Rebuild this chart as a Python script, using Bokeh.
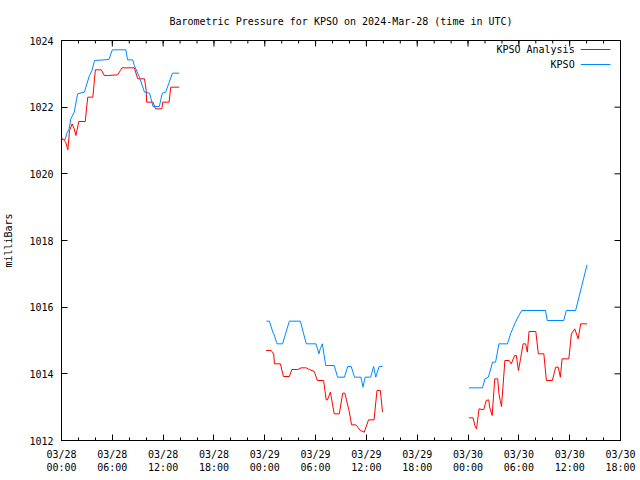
import math
from bokeh.plotting import figure
from bokeh.models import Range1d, FixedTicker, Label
from bokeh.embed import file_html
from bokeh.resources import INLINE

NAN = float("nan")

title_text = "Barometric Pressure for KPSO on 2024-Mar-28 (time in UTC)"
y_label = "milliBars"
series_names = ["KPSO Analysis", "KPSO"]
series_colors = ["#ff0000", "#0088ff"]

# hours since 2024-03-28 00:00 UTC
x_ticks = [0, 6, 12, 18, 24, 30, 36, 42, 48, 54, 60, 66]
x_tick_labels = ["03/28\n00:00", "03/28\n06:00", "03/28\n12:00", "03/28\n18:00",
                 "03/29\n00:00", "03/29\n06:00", "03/29\n12:00", "03/29\n18:00",
                 "03/30\n00:00", "03/30\n06:00", "03/30\n12:00", "03/30\n18:00"]
y_ticks = [1012, 1014, 1016, 1018, 1020, 1022, 1024]

# KPSO observed
kpso_hours = [0.0, 0.45, 0.6, 0.9, 1.1, 1.5, 1.9, 2.7, 3.3, 3.6, 3.9, 5.6, 6.0, 7.6, 7.8, 8.4,
              8.6, 9.2, 9.8, 10.4, 10.8, 11.55, 11.9, 12.3, 13.1, 13.9,
              NAN,
              24.2, 24.55, 24.95, 25.1, 25.45, 26.1, 26.9, 28.2, 28.9, 30.05, 30.4, 30.55, 30.8,
              31.2, 32.2, 32.6, 33.4, 33.8, 34.2, 34.6, 35.35, 35.6, 35.85, 36.5, 36.85, 37.1,
              37.5, 37.9,
              NAN,
              48.1, 49.7, 50.0, 50.4, 50.9, 51.25, 51.65, 52.65, 53.05, 53.6, 54.0, 54.35,
              57.15, 57.35, 59.3, 59.6, 60.7, 62.05]
kpso_mb = [1021.03, 1021.03, 1021.2, 1021.35, 1021.65, 1021.85, 1022.4, 1022.45, 1022.95, 1023.1,
           1023.4, 1023.43, 1023.72, 1023.72, 1023.42, 1023.42, 1023.25, 1022.9, 1022.45, 1022.42,
           1022.02, 1022.02, 1022.42, 1022.45, 1023.02, 1023.02,
           NAN,
           1015.58, 1015.58, 1015.25, 1015.18, 1014.9, 1014.9, 1015.58, 1015.58, 1014.9, 1014.9,
           1014.6, 1014.75, 1014.9, 1014.25, 1014.25, 1013.9, 1013.9, 1014.22, 1014.22, 1013.9,
           1013.9, 1013.6, 1013.9, 1013.9, 1014.22, 1013.9, 1014.22, 1014.22,
           NAN,
           1013.58, 1013.58, 1013.85, 1013.9, 1014.35, 1014.35, 1014.9, 1014.9, 1015.22, 1015.55,
           1015.75, 1015.9, 1015.9, 1015.6, 1015.6, 1015.9, 1015.9, 1017.27]

# KPSO analysis
anal_hours = [0.0, 0.3, 0.5, 0.75, 0.95, 1.25, 1.5, 1.7, 2.05, 2.8, 3.1, 3.7, 4.0, 4.7, 5.05,
              5.45, 6.65, 6.95, 7.15, 8.6, 9.0, 9.8, 10.0, 10.05, 10.8, 11.1, 11.85, 11.95, 12.7,
              12.9, 13.9,
              NAN,
              24.15, 24.75, 25.05, 25.15, 25.85, 26.2, 26.9, 27.2, 27.9, 28.3, 28.9, 29.25, 29.85,
              30.2, 30.95, 31.25, 31.4, 31.75, 32.2, 32.8, 33.2, 33.45, 33.95, 34.25, 34.75, 35.3,
              35.75, 36.25, 36.9, 37.25, 37.65, 37.9,
              NAN,
              48.1, 48.6, 48.8, 49.0, 49.3, 49.85, 50.15, 50.45, 50.55, 50.85, 51.15, 51.5, 51.65,
              51.8, 51.95, 52.15, 52.35, 52.85, 53.1, 53.5, 53.7, 53.95, 54.2, 54.5, 54.8, 55.0,
              55.2, 56.0, 56.3, 56.95, 57.25, 57.95, 58.35, 58.65, 58.9, 59.1, 59.9, 60.2, 60.6,
              61.0, 61.3, 62.05]
anal_mb = [1021.08, 1021.0, 1020.95, 1020.72, 1021.3, 1021.5, 1021.35, 1021.15, 1021.57, 1021.57,
           1022.3, 1022.3, 1023.12, 1023.12, 1022.95, 1022.95, 1022.97, 1023.1, 1023.18, 1023.18,
           1022.85, 1022.85, 1022.5, 1022.15, 1022.15, 1021.95, 1021.95, 1022.15, 1022.15,
           1022.6, 1022.6,
           NAN,
           1014.7, 1014.7, 1014.6, 1014.3, 1014.3, 1013.92, 1013.92, 1014.13, 1014.13, 1014.18,
           1014.18, 1014.13, 1014.07, 1013.8, 1013.8, 1013.22, 1013.22, 1013.45, 1012.8, 1012.8,
           1013.42, 1013.42, 1012.9, 1012.47, 1012.47, 1012.3, 1012.25, 1012.62, 1012.62, 1013.5,
           1013.5, 1012.85,
           NAN,
           1012.68, 1012.68, 1012.45, 1012.35, 1012.95, 1012.92, 1013.2, 1013.22, 1013.0, 1012.75,
           1013.85, 1013.85, 1013.4, 1013.2, 1013.02, 1013.7, 1014.4, 1014.4, 1014.3, 1014.55,
           1014.55, 1014.1, 1014.45, 1014.9, 1014.9, 1014.65, 1015.27, 1015.27, 1014.6, 1014.6,
           1013.8, 1013.8, 1014.2, 1014.2, 1013.9, 1014.45, 1014.45, 1015.2, 1015.35, 1015.05,
           1015.5, 1015.5]

FONT = "DejaVu Sans Mono"
FS = "10px"

X0, X1 = x_ticks[0], x_ticks[-1]
Y0, Y1 = y_ticks[0], y_ticks[-1]
FRAME_W, FRAME_H = 560, 400

p = figure(width=640, height=480, x_range=Range1d(X0, X1), y_range=Range1d(Y0, Y1),
           output_backend="svg", toolbar_location=None,
           min_border_left=60, min_border_right=20, min_border_top=40, min_border_bottom=40,
           background_fill_color="white", border_fill_color="white")
p.grid.visible = False
p.outline_line_color = "black"
p.outline_line_width = 1

p.title.text = title_text
p.title.align = "center"
p.title.text_font = FONT
p.title.text_font_size = FS
p.title.text_font_style = "normal"
p.title.text_color = "black"
p.title.offset = -3
p.title.standoff = 27

span_x = X1 - X0
span_y = Y1 - Y0
px_x = span_x / FRAME_W
px_y = span_y / FRAME_H

minor_x = list(range(X0, X1 + 1, 2))


def style_axis(ax):
    ax.axis_line_color = "black"
    ax.major_tick_in = 6
    ax.major_tick_out = 0
    ax.minor_tick_in = 3
    ax.minor_tick_out = 0
    ax.major_tick_line_color = "black"
    ax.minor_tick_line_color = "black"
    ax.major_label_text_font = FONT
    ax.major_label_text_font_size = FS
    ax.major_label_text_color = "black"


xa = p.xaxis[0]
xa.ticker = FixedTicker(ticks=x_ticks, minor_ticks=minor_x)
xa.major_label_overrides = {t: s for t, s in zip(x_ticks, x_tick_labels)}
style_axis(xa)
xa.major_label_standoff = 8

ya = p.yaxis[0]
ya.ticker = FixedTicker(ticks=y_ticks, minor_ticks=[])
style_axis(ya)
ya.major_label_standoff = 8
ya.axis_label = y_label
ya.axis_label_text_font = FONT
ya.axis_label_text_font_size = FS
ya.axis_label_text_font_style = "normal"
ya.axis_label_text_color = "black"
ya.axis_label_standoff = 12

# mirrored ticks on the top and right frame edges (gnuplot style)
p.segment(x0=x_ticks, y0=[Y1] * len(x_ticks), x1=x_ticks, y1=[Y1 - 6 * px_y] * len(x_ticks),
          line_color="black", line_width=1)
p.segment(x0=minor_x, y0=[Y1] * len(minor_x), x1=minor_x, y1=[Y1 - 3 * px_y] * len(minor_x),
          line_color="black", line_width=1)
p.segment(x0=[X1] * len(y_ticks), y0=y_ticks, x1=[X1 - 6 * px_x] * len(y_ticks), y1=y_ticks,
          line_color="black", line_width=1)

p.line(anal_hours, anal_mb, line_color=series_colors[0], line_width=1)
p.line(kpso_hours, kpso_mb, line_color=series_colors[1], line_width=1)

# legend (gnuplot style: text right-aligned, sample line at right)
for i, (name, col) in enumerate(zip(series_names, series_colors)):
    yy = Y1 - span_y * (0.0225 + 0.0375 * i)
    p.add_layout(Label(x=X0 + span_x * 0.918, y=yy, text=name, text_align="right",
                       text_baseline="middle", text_font=FONT, text_font_size=FS,
                       text_color="black"))
    p.line([X0 + span_x * 0.929, X0 + span_x * 0.982], [yy, yy], line_color=col, line_width=1)

open("out.html", "w").write(file_html(p, INLINE))
